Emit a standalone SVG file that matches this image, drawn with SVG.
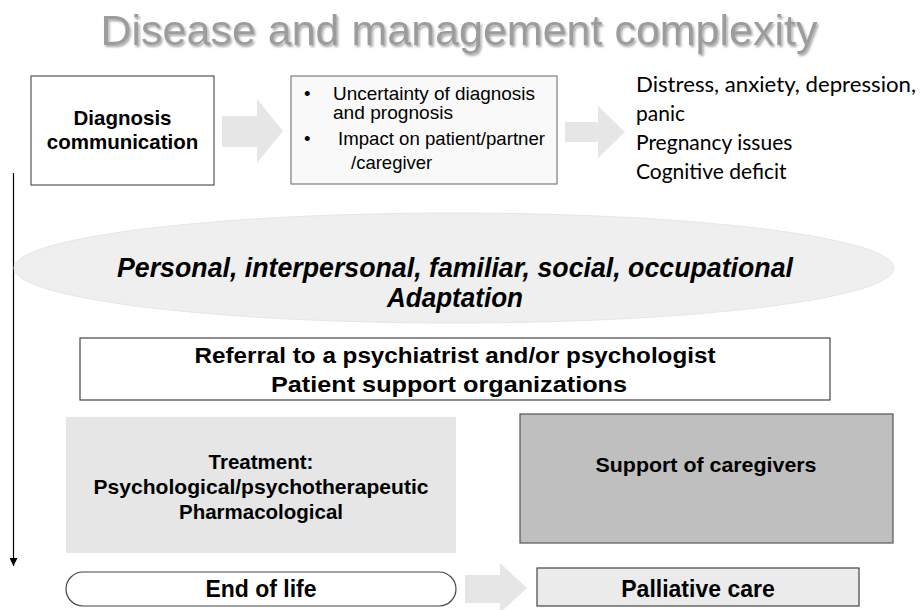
<svg xmlns="http://www.w3.org/2000/svg" width="921" height="610" viewBox="0 0 921 610">
<defs>
<style>
.b{font-family:"Liberation Sans",Arial,sans-serif;font-weight:bold;fill:#000;text-anchor:middle}
.r{font-family:"Liberation Sans",Arial,sans-serif;fill:#000;font-size:18.5px}
.c{font-family:Lato,"Open Sans",sans-serif;fill:#000;font-size:21px}
.blk{fill:#e6e6e6;stroke:none}
</style>
<filter id="sh" x="-5%" y="-20%" width="110%" height="150%">
<feDropShadow dx="1.5" dy="2" stdDeviation="1.2" flood-color="#000" flood-opacity="0.35"/>
</filter>
<marker id="ah" markerWidth="8" markerHeight="8" refX="8" refY="4" orient="auto" markerUnits="userSpaceOnUse">
<path d="M0,0 L8,4 L0,8 Z" fill="#000"/>
</marker>
</defs>
<rect width="921" height="610" fill="#fff"/>
<text x="459" y="45" font-family="Liberation Sans,Arial,sans-serif" font-size="43" fill="#9c9c9c" text-anchor="middle" filter="url(#sh)">Disease and management complexity</text>

<g id="connectors">
<line x1="13.5" y1="173" x2="13.5" y2="566" stroke="#000" stroke-width="1.2" marker-end="url(#ah)"/>
<path class="blk" d="M222,116 H257 V99 L283,131 L257,163 V147 H222 Z"/>
<path class="blk" d="M565,122 H598 V106 L625,132 L598,158 V142 H565 Z"/>
<path class="blk" d="M465,575 H500 V563 L527,588 L500,613 V603 H465 Z"/>
</g>

<g id="diagnosis">
<rect x="31" y="76" width="183" height="109" fill="#fff" stroke="#555" stroke-width="1.2"/>
<text class="b" font-size="20.5" x="122.5" y="125">Diagnosis</text>
<text class="b" font-size="20.5" x="122.5" y="149">communication</text>
</g>

<g id="uncertainty">
<rect x="291" y="76" width="266" height="108" fill="#f9f9f9" stroke="#666" stroke-width="1"/>
<text class="r" x="304" y="100">•</text>
<text class="r" x="333" y="100" textLength="202" lengthAdjust="spacingAndGlyphs">Uncertainty of diagnosis</text>
<text class="r" x="333" y="119" textLength="120" lengthAdjust="spacingAndGlyphs">and prognosis</text>
<text class="r" x="304" y="145">•</text>
<text class="r" x="338" y="145" textLength="207" lengthAdjust="spacingAndGlyphs">Impact on patient/partner</text>
<text class="r" x="351" y="169">/caregiver</text>
</g>

<g id="effects">
<text class="c" x="636" y="92" textLength="280" lengthAdjust="spacingAndGlyphs">Distress, anxiety, depression,</text>
<text class="c" x="636" y="121">panic</text>
<text class="c" x="636" y="150">Pregnancy issues</text>
<text class="c" x="636" y="179">Cognitive deficit</text>
</g>

<g id="adaptation">
<ellipse cx="454" cy="268" rx="440" ry="55" fill="#efefef" stroke="#e6e6e6" stroke-width="1"/>
<text class="b" font-style="italic" font-size="27.5" x="455" y="277" textLength="676" lengthAdjust="spacingAndGlyphs">Personal, interpersonal, familiar, social, occupational</text>
<text class="b" font-style="italic" font-size="27.5" x="455" y="307" textLength="136" lengthAdjust="spacingAndGlyphs">Adaptation</text>
</g>

<g id="referral">
<rect x="80" y="338" width="750" height="62" fill="#fff" stroke="#444" stroke-width="1.2"/>
<text class="b" font-size="22" x="455" y="363" textLength="521" lengthAdjust="spacingAndGlyphs">Referral to a psychiatrist and/or psychologist</text>
<text class="b" font-size="22" x="449" y="392" textLength="356" lengthAdjust="spacingAndGlyphs">Patient support organizations</text>
</g>

<g id="treatment">
<rect x="66" y="417" width="390" height="136" fill="#e6e6e6"/>
<text class="b" font-size="20.5" x="261" y="469">Treatment:</text>
<text class="b" font-size="20.5" x="261" y="494" textLength="335" lengthAdjust="spacingAndGlyphs">Psychological/psychotherapeutic</text>
<text class="b" font-size="20.5" x="261" y="519">Pharmacological</text>
</g>

<g id="caregivers">
<rect x="520" y="414" width="373" height="129" fill="#bfbfbf" stroke="#555" stroke-width="1.2"/>
<text class="b" font-size="21" x="706" y="472" textLength="221" lengthAdjust="spacingAndGlyphs">Support of caregivers</text>
</g>

<g id="endoflife">
<rect x="66" y="572" width="390" height="34" rx="17" ry="17" fill="#fff" stroke="#444" stroke-width="1.2"/>
<text class="b" font-size="23" x="261" y="597">End of life</text>
</g>

<g id="palliative">
<rect x="537" y="568" width="322" height="38" fill="#ebebeb" stroke="#444" stroke-width="1.2"/>
<text class="b" font-size="23" x="698" y="597">Palliative care</text>
</g>
</svg>
